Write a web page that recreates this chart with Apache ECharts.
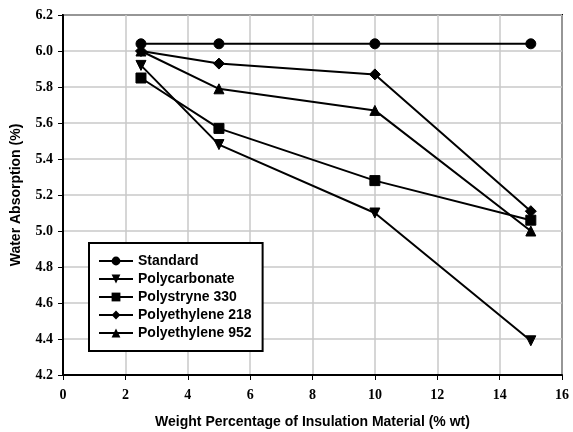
<!DOCTYPE html>
<html>
<head>
<meta charset="utf-8">
<script src="https://cdn.jsdelivr.net/npm/echarts@6/dist/echarts.min.js"></script>
<style>
  html, body { margin: 0; padding: 0; background: #fff; }
  #chart { width: 573px; height: 432px; }
</style>
</head>
<body>
<div id="chart"></div>
<script>
'use strict';

const weights = [2.5, 5, 10, 15];
const standard = [6.04, 6.04, 6.04, 6.04];
const polycarbonate = [5.92, 5.48, 5.10, 4.39];
const polystyrene330 = [5.85, 5.57, 5.28, 5.06];
const polyethylene218 = [6.00, 5.93, 5.87, 5.11];
const polyethylene952 = [6.00, 5.79, 5.67, 5.00];

const seriesNames = ['Standard', 'Polycarbonate', 'Polystryne 330', 'Polyethylene 218', 'Polyethylene 952'];
const seriesValues = [standard, polycarbonate, polystyrene330, polyethylene218, polyethylene952];
const symbols = ['circle', 'triangle', 'rect', 'diamond', 'triangle'];
const rotations = [0, 180, 0, 0, 0];
const symbolSizes = [10, 10, 10, 11, 10];

(function () {
    const container = document.getElementById('chart');
    const tickFont = {
        color: '#000',
        fontFamily: '"Liberation Serif", "DejaVu Serif", serif',
        fontWeight: 'bold',
        fontSize: 14
    };
    const titleFont = {
        color: '#000',
        fontFamily: '"Liberation Sans", Arial, sans-serif',
        fontWeight: 'bold',
        fontSize: 14
    };

    const options = {
        animation: false,
        backgroundColor: '#fff',
        grid: {
            left: 63,
            right: 11,
            top: 15,
            bottom: 57,
            outerBoundsMode: 'none',
            show: true,
            borderColor: '#000',
            borderWidth: 2
        },
        legend: {
            data: seriesNames,
            orient: 'vertical',
            left: 89,
            top: 243,
            padding: [11, 11, 11, 9],
            itemGap: 4,
            itemWidth: 34,
            itemHeight: 11,
            backgroundColor: '#fff',
            borderColor: '#000',
            borderWidth: 2,
            borderRadius: 0,
            textStyle: {
                color: '#000',
                fontFamily: '"Liberation Sans", Arial, sans-serif',
                fontWeight: 'bold',
                fontSize: 14
            }
        },
        xAxis: {
            type: 'value',
            min: 0,
            max: 16,
            interval: 2,
            name: 'Weight Percentage of Insulation Material (% wt)',
            nameLocation: 'middle',
            nameGap: 40,
            nameTextStyle: titleFont,
            axisLine: { lineStyle: { color: '#000', width: 2 } },
            axisTick: { show: true, inside: false, length: 5, lineStyle: { color: '#000', width: 1 } },
            axisLabel: Object.assign({ margin: 13 }, tickFont),
            splitLine: { show: true, lineStyle: { color: '#c8c8c8', width: 1.5 } }
        },
        yAxis: {
            type: 'value',
            min: 4.2,
            max: 6.2,
            interval: 0.2,
            name: 'Water Absorption (%)',
            nameLocation: 'middle',
            nameGap: 40,
            nameRotate: 90,
            nameTextStyle: titleFont,
            axisLine: { show: true, lineStyle: { color: '#000', width: 2 } },
            axisTick: { show: true, inside: false, length: 5, lineStyle: { color: '#000', width: 1 } },
            axisLabel: Object.assign({ margin: 10, formatter: v => v.toFixed(1) }, tickFont),
            splitLine: { show: true, lineStyle: { color: '#c8c8c8', width: 1.5 } }
        },
        series: seriesNames.map((name, i) => ({
            name: name,
            type: 'line',
            data: weights.map((w, j) => [w, seriesValues[i][j]]),
            symbol: symbols[i],
            symbolRotate: rotations[i],
            symbolSize: symbolSizes[i],
            showAllSymbol: true,
            lineStyle: { color: '#000', width: 2 },
            itemStyle: { color: '#000', borderColor: '#000' },
            z: 10 - i
        }))
    };

    const chart = echarts.init(container, null, { renderer: 'canvas' });
    chart.setOption(options);
})();
</script>
</body>
</html>
